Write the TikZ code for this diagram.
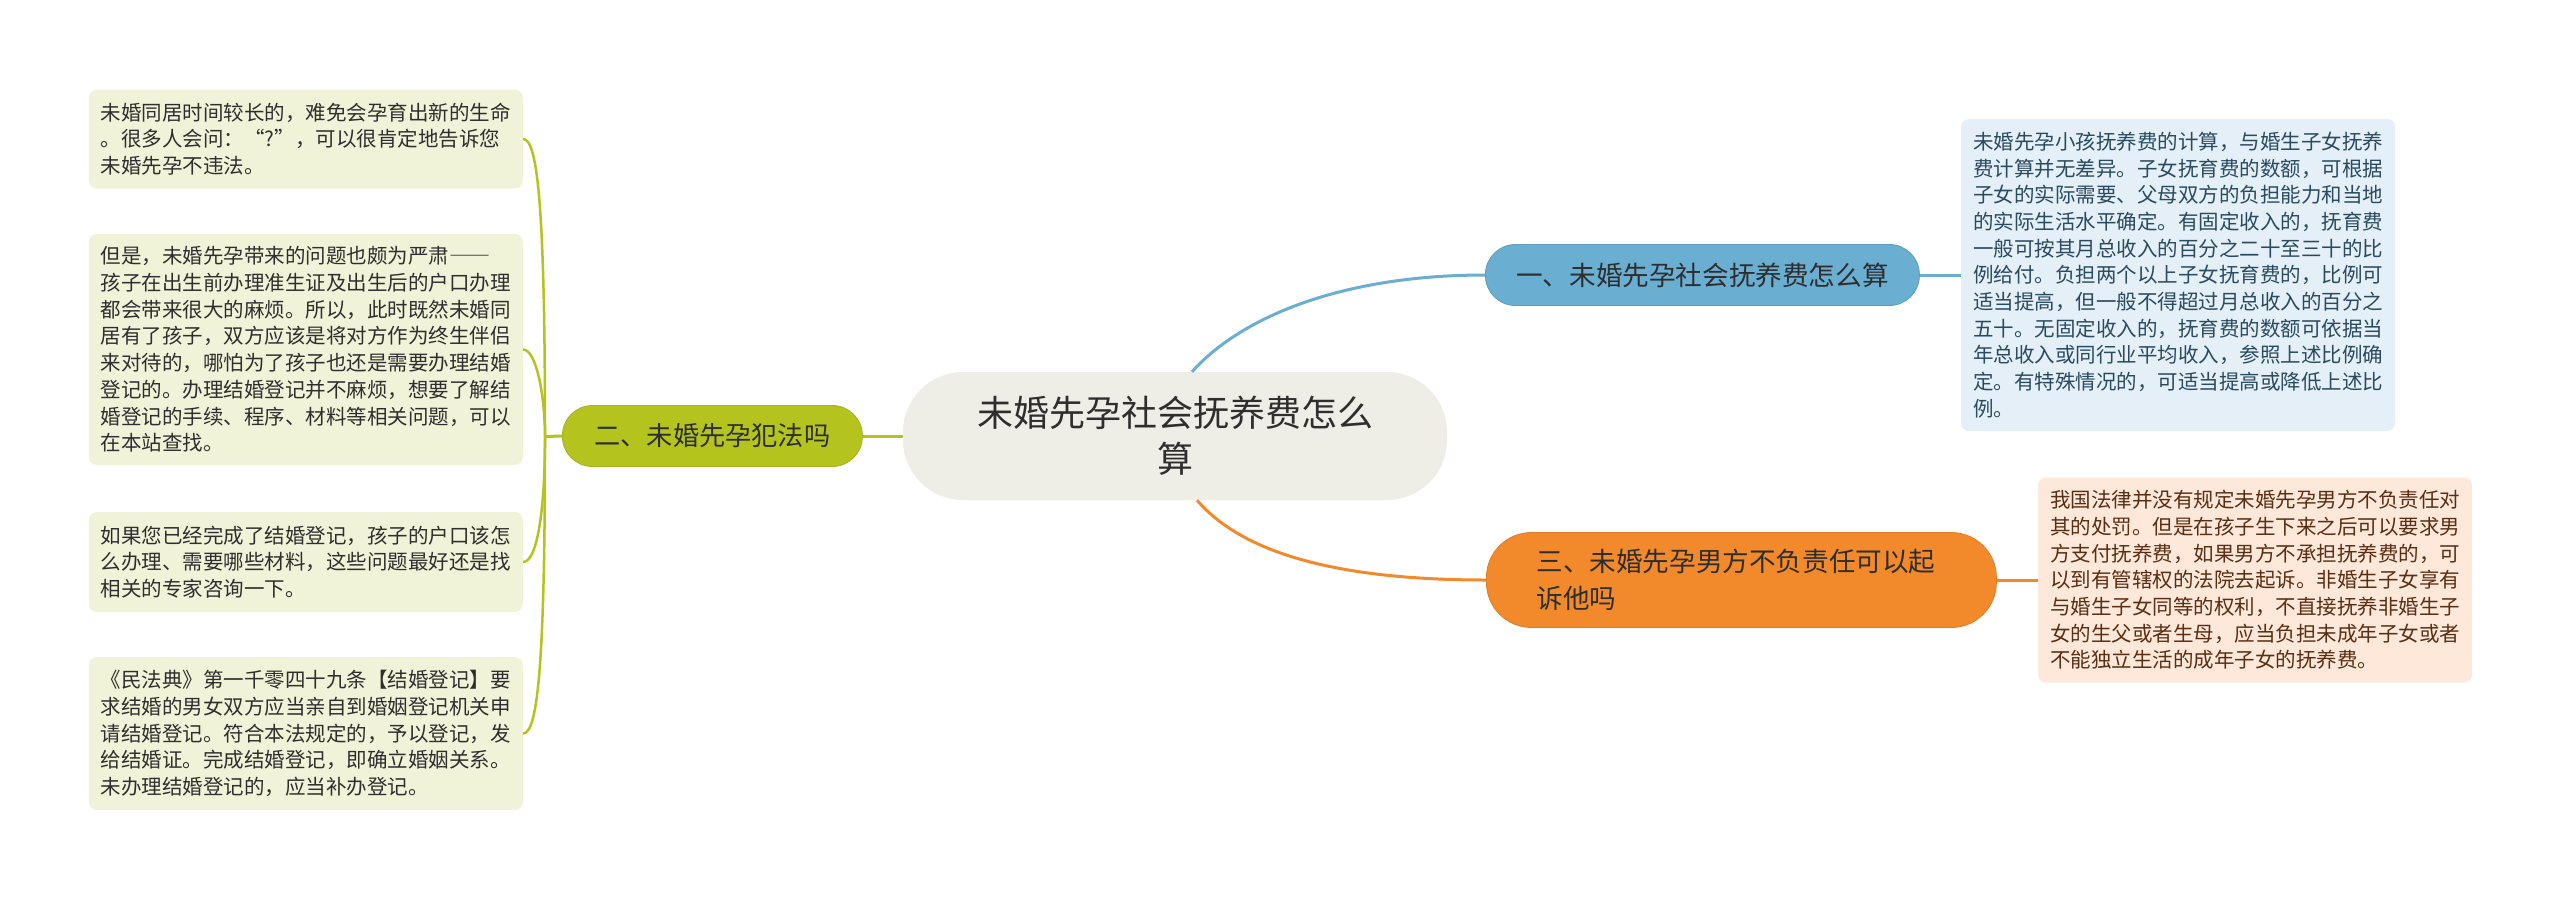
\documentclass[tikz,border=0pt]{standalone}
\usepackage{fontspec}
\setmainfont{Noto Sans CJK SC}
\usepackage{xcolor}
\usetikzlibrary{positioning}

\definecolor{rootfill}{HTML}{EEEEE6}
\definecolor{bluetopic}{HTML}{6AAED2}
\definecolor{blueleaf}{HTML}{E4EFF7}
\definecolor{bluetext}{HTML}{2A4A5E}
\definecolor{orangetopic}{HTML}{F28A2B}
\definecolor{orangeleaf}{HTML}{FDE8DA}
\definecolor{orangetext}{HTML}{5A2E12}
\definecolor{greentopic}{HTML}{B4C31E}
\definecolor{greenleaf}{HTML}{F1F3D9}
\definecolor{darktext}{HTML}{2E2E2E}

\begin{document}
\begin{tikzpicture}[
        x=1pt, y=-1pt,
        root/.style={rectangle, fill=rootfill, text=darktext, rounded corners=60pt, minimum width=544pt, minimum height=128pt, inner sep=0pt, align=center, font=\fontsize{36}{46}\selectfont},
        topic/.style={rectangle, rounded corners=30pt, minimum height=61pt, inner sep=0pt, text=darktext, font=\fontsize{26.6}{37}\selectfont},
        leaf/.style={rectangle, rounded corners=8pt, text width=410pt, inner xsep=12pt, inner ysep=0pt, align=left, text=darktext, font=\fontsize{20.5}{26.7}\selectfont},
        branch/.style={line width=3pt},
        twig/.style={line width=2.5pt, draw=greentopic}
    ]
    \fill[white] (0,0) rectangle (2560,900);
    \useasboundingbox (0,0) rectangle (2560,900);

    % Root
    \node[root] (root) at (1175,436) {未婚先孕社会抚养费怎么\\算};

    % Right topics
    \node[topic, fill=bluetopic, draw=bluetopic!90!black, line width=0.8pt, minimum width=434pt, anchor=west] (fee) at (1485,275) {一、未婚先孕社会抚养费怎么算};
    \node[topic, fill=orangetopic, draw=orangetopic!92!black, line width=0.8pt, minimum width=510pt, minimum height=95pt, rounded corners=45pt, text width=410pt, align=left, anchor=west] (sue) at (1486,580) {三、未婚先孕男方不负责任可以起\\诉他吗};

    % Left topic
    \node[topic, fill=greentopic, draw=greentopic!92!black, line width=0.8pt, minimum width=300pt, minimum height=61pt, font=\fontsize{26.2}{35}\selectfont, left=40pt of root] (law) {二、未婚先孕犯法吗};

    % Right leaves
    \node[leaf, fill=blueleaf, text=bluetext, minimum height=312pt, right=41pt of fee] (feetext) {未婚先孕小孩抚养费的计算，与婚生子女抚养\\费计算并无差异。子女抚育费的数额，可根据\\子女的实际需要、父母双方的负担能力和当地\\的实际生活水平确定。有固定收入的，抚育费\\一般可按其月总收入的百分之二十至三十的比\\例给付。负担两个以上子女抚育费的，比例可\\适当提高，但一般不得超过月总收入的百分之\\五十。无固定收入的，抚育费的数额可依据当\\年总收入或同行业平均收入，参照上述比例确\\定。有特殊情况的，可适当提高或降低上述比\\例。};
    \node[leaf, fill=orangeleaf, text=orangetext, minimum height=205pt, right=41pt of sue] (suetext) {我国法律并没有规定未婚先孕男方不负责任对\\其的处罚。但是在孩子生下来之后可以要求男\\方支付抚养费，如果男方不承担抚养费的，可\\以到有管辖权的法院去起诉。非婚生子女享有\\与婚生子女同等的权利，不直接抚养非婚生子\\女的生父或者生母，应当负担未成年子女或者\\不能独立生活的成年子女的抚养费。};

    % Left leaves
    \node[leaf, fill=greenleaf, minimum height=99pt, anchor=east] (cohabit) at (523,139) {未婚同居时间较长的，难免会孕育出新的生命\\。很多人会问：“?”，可以很肯定地告诉您\\未婚先孕不违法。};
    \node[leaf, fill=greenleaf, minimum height=231pt, anchor=east] (trouble) at (523,349.5) {但是，未婚先孕带来的问题也颇为严肃{\addfontfeatures{CharacterWidth=Full}——}\\孩子在出生前办理准生证及出生后的户口办理\\都会带来很大的麻烦。所以，此时既然未婚同\\居有了孩子，双方应该是将对方作为终生伴侣\\来对待的，哪怕为了孩子也还是需要办理结婚\\登记的。办理结婚登记并不麻烦，想要了解结\\婚登记的手续、程序、材料等相关问题，可以\\在本站查找。};
    \node[leaf, fill=greenleaf, minimum height=100pt, anchor=east] (hukou) at (523,562) {如果您已经完成了结婚登记，孩子的户口该怎\\么办理、需要哪些材料，这些问题最好还是找\\相关的专家咨询一下。};
    \node[leaf, fill=greenleaf, minimum height=153pt, anchor=east] (civil) at (523,733.5) {《民法典》第一千零四十九条【结婚登记】要\\求结婚的男女双方应当亲自到婚姻登记机关申\\请结婚登记。符合本法规定的，予以登记，发\\给结婚证。完成结婚登记，即确立婚姻关系。\\未办理结婚登记的，应当补办登记。};

    % Connections - root to topics
    \draw[branch, draw=bluetopic] ([xshift=17pt]root.north) .. controls (1240,318) and (1340,275) .. (fee.west);
    \draw[branch, draw=orangetopic] ([xshift=22pt]root.south) .. controls (1245,556) and (1345,580) .. (sue.west);
    \draw[branch, draw=greentopic] (root.west) -- (law.east);

    % Connections - topics to leaves
    \draw[branch, draw=bluetopic] (fee.east) -- (feetext.west);
    \draw[branch, draw=orangetopic] (sue.east) -- (suetext.west);
    \coordinate (hub) at (545,436.5);
    \draw[branch, draw=greentopic] (law.west) -- (hub);
    \draw[twig] (hub) .. controls (545,199) and (537,139) .. (cohabit.east);
    \draw[twig] (hub) .. controls (545,399) and (537,349.5) .. (trouble.east);
    \draw[twig] (hub) .. controls (545,512) and (537,562) .. (hukou.east);
    \draw[twig] (hub) .. controls (545,673) and (537,733.5) .. (civil.east);

\end{tikzpicture}
\end{document}
